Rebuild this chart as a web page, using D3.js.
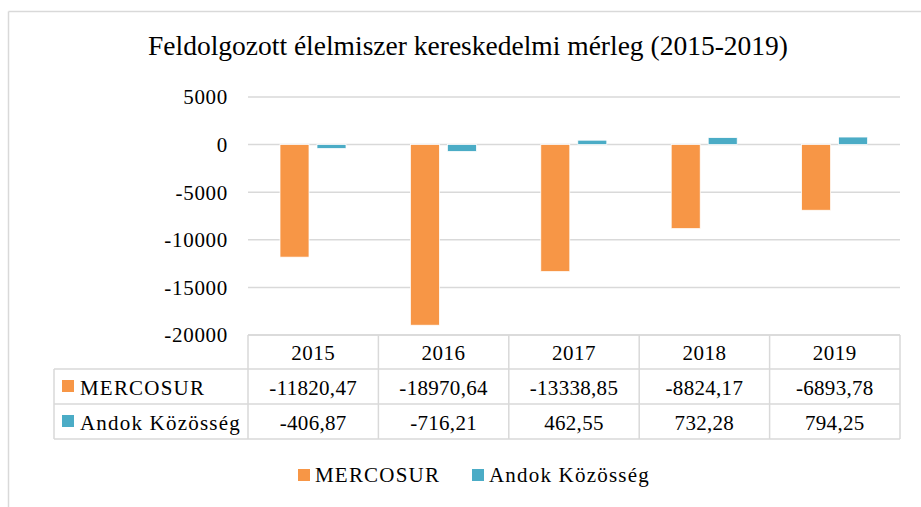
<!DOCTYPE html>
<html>
<head>
<meta charset="utf-8">
<script src="https://cdn.jsdelivr.net/npm/d3@7"></script>
<style>
  html, body { margin: 0; padding: 0; background: #fff; }
  svg text { font-family: "Liberation Serif", "DejaVu Serif", serif; fill: #000; }
</style>
</head>
<body>
<svg id="chart" width="921" height="507"></svg>
<script>
const title = "Feldolgozott élelmiszer kereskedelmi mérleg (2015-2019)";
const years = ["2015", "2016", "2017", "2018", "2019"];
const seriesNames = ["MERCOSUR", "Andok Közösség"];
const mercosur = [-11820.47, -18970.64, -13338.85, -8824.17, -6893.78];
const andok = [-406.87, -716.21, 462.55, 732.28, 794.25];
const yTicks = [5000, 0, -5000, -10000, -15000, -20000];
const colors = ["#F79646", "#4BACC6"];

const seriesValues = [mercosur, andok];
const svg = d3.select("#chart");
const gridColor = "#d9d9d9";

// outer frame (partially cut off)
svg.append("line").attr("x1", 8.5).attr("x2", 8.5).attr("y1", 11.5).attr("y2", 507)
  .attr("stroke", gridColor).attr("stroke-width", 1.5);
svg.append("line").attr("x1", 8.5).attr("x2", 921).attr("y1", 11.5).attr("y2", 11.5)
  .attr("stroke", gridColor).attr("stroke-width", 1.5);

// title
svg.append("text").attr("x", 468).attr("y", 55).attr("text-anchor", "middle")
  .attr("font-size", 27.5).text(title);

const x = d3.scaleBand().domain(years).range([248, 900]).paddingInner(0).paddingOuter(0);
const y = d3.scaleLinear().domain([-20000, 5000]).range([335, 97]);
const x1 = d3.scaleBand().domain([0, 1]).range([32, 98]).paddingInner(0.216).paddingOuter(0);

// gridlines
svg.append("g").selectAll("line").data(yTicks).join("line")
  .attr("x1", 248).attr("x2", 900)
  .attr("y1", d => y(d)).attr("y2", d => y(d))
  .attr("stroke", gridColor).attr("stroke-width", 1.5);

// y axis labels
svg.append("g").selectAll("text").data(yTicks).join("text")
  .attr("x", 228).attr("y", d => y(d)).attr("dy", "0.35em")
  .attr("text-anchor", "end").attr("font-size", 21).attr("letter-spacing", 0.7)
  .text(d => d);

// bars
seriesValues.forEach((vals, si) => {
  svg.append("g").selectAll("rect").data(vals).join("rect")
    .attr("x", (d, i) => x(years[i]) + x1(si))
    .attr("width", x1.bandwidth())
    .attr("y", d => Math.min(y(d), y(0)))
    .attr("height", d => Math.abs(y(d) - y(0)))
    .attr("fill", colors[si])
    .attr("stroke", "#fff").attr("stroke-width", 0.75);
});

// data table
const tLeft = 54, rowTops = [335, 369, 404, 439];
const tg = svg.append("g").attr("stroke", gridColor).attr("stroke-width", 1.5).attr("fill", "none");
tg.append("line").attr("x1", 248).attr("x2", 900).attr("y1", rowTops[0]).attr("y2", rowTops[0]);
[1, 2, 3].forEach(r => tg.append("line").attr("x1", tLeft).attr("x2", 900).attr("y1", rowTops[r]).attr("y2", rowTops[r]));
tg.append("line").attr("x1", tLeft).attr("x2", tLeft).attr("y1", rowTops[1]).attr("y2", rowTops[3]);
years.forEach(yr => tg.append("line").attr("x1", x(yr)).attr("x2", x(yr)).attr("y1", rowTops[0]).attr("y2", rowTops[3]));
tg.append("line").attr("x1", 900).attr("x2", 900).attr("y1", rowTops[0]).attr("y2", rowTops[3]);

const fmt = v => d3.format(".2f")(v).replace(".", ",").replace("−", "-");

// header
svg.append("g").selectAll("text").data(years).join("text")
  .attr("x", d => x(d) + x.bandwidth() / 2).attr("y", 360)
  .attr("text-anchor", "middle").attr("font-size", 21).attr("letter-spacing", 0.5).text(d => d);

seriesValues.forEach((vals, si) => {
  const base = si === 0 ? 395 : 430;
  svg.append("g").selectAll("text").data(vals).join("text")
    .attr("x", (d, i) => x(years[i]) + x.bandwidth() / 2).attr("y", base)
    .attr("text-anchor", "middle").attr("font-size", 21).attr("letter-spacing", 0.3).text(d => fmt(d));
  svg.append("rect").attr("x", 62).attr("y", base - 15).attr("width", 12).attr("height", 12)
    .attr("fill", colors[si]);
  svg.append("text").attr("x", 80).attr("y", base).attr("font-size", 21).attr("letter-spacing", 1.2)
    .text(seriesNames[si]);
});

// legend
const legendX = [298, 472];
seriesNames.forEach((n, si) => {
  svg.append("rect").attr("x", legendX[si]).attr("y", 469).attr("width", 12).attr("height", 12)
    .attr("fill", colors[si]);
  svg.append("text").attr("x", legendX[si] + 17).attr("y", 482).attr("font-size", 21).attr("letter-spacing", 1.2)
    .text(n);
});
</script>
</body>
</html>
